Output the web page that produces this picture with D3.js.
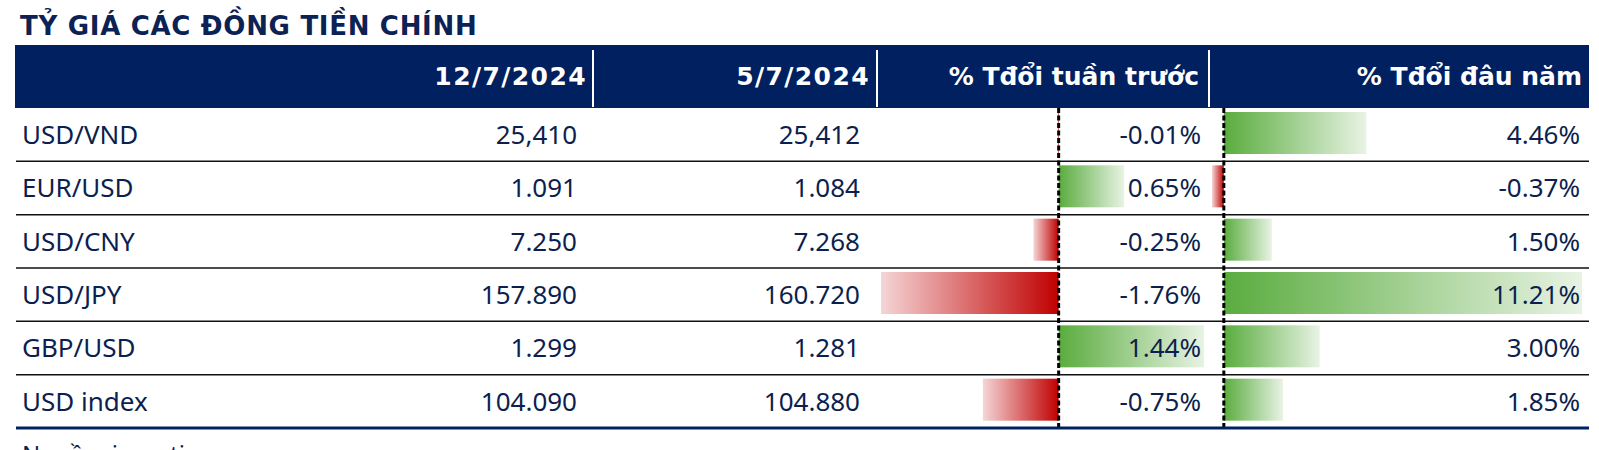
<!DOCTYPE html>
<html>
<head>
<meta charset="utf-8">
<script src="https://cdn.jsdelivr.net/npm/d3@7"></script>
<style>
  html, body { margin: 0; padding: 0; background: #ffffff; }
  svg { display: block; }
</style>
</head>
<body>
<script>
// ---------------- DATA ----------------
const title = "TỶ GIÁ CÁC ĐỒNG TIỀN CHÍNH";
const headers = ["12/7/2024", "5/7/2024", "% Tđổi tuần trước", "% Tđổi đâu năm"];
const pairs = ["USD/VND", "EUR/USD", "USD/CNY", "USD/JPY", "GBP/USD", "USD index"];
const current = [25410, 1.091, 7.250, 157.890, 1.299, 104.090];
const previous = [25412, 1.084, 7.268, 160.720, 1.281, 104.880];
const weekChange = [-0.01, 0.65, -0.25, -1.76, 1.44, -0.75];
const ytdChange = [4.46, -0.37, 1.50, 11.21, 3.00, 1.85];
const sourceNote = "Nguồn: investing";

// ---------------- LAYOUT ----------------
const W = 1599, H = 450;
const left = 16, right = 1589;
const headTop = 45, headBottom = 108, tableBottom = 428;
const navy = "#002060", ink = "#0c1f4e";
const dataFont = "'Noto Sans', 'DejaVu Sans', sans-serif";
const boldFont = "'DejaVu Sans', Verdana, sans-serif";

const locale = d3.formatLocale({ decimal: ".", thousands: ",", grouping: [3], currency: ["", ""], minus: "-" });

const svg = d3.select("body").append("svg").attr("width", W).attr("height", H);

// gradients
const defs = svg.append("defs");
const gp = defs.append("linearGradient").attr("id", "gPos").attr("x1", 0).attr("x2", 1).attr("y1", 0).attr("y2", 0);
gp.append("stop").attr("offset", 0).attr("stop-color", "#5aac3e");
gp.append("stop").attr("offset", 1).attr("stop-color", "#e8f3e4");
const gn = defs.append("linearGradient").attr("id", "gNeg").attr("x1", 1).attr("x2", 0).attr("y1", 0).attr("y2", 0);
gn.append("stop").attr("offset", 0).attr("stop-color", "#c00000");
gn.append("stop").attr("offset", 1).attr("stop-color", "#f5d5d6");

// title
svg.append("text")
  .attr("x", 20).attr("y", 35)
  .attr("font-family", boldFont).attr("font-weight", "bold")
  .attr("font-size", 26).attr("letter-spacing", 0.7)
  .attr("fill", "#0d2254")
  .text(title);

// header band
svg.append("rect").attr("x", left - 1).attr("y", headTop)
  .attr("width", right - left + 1).attr("height", headBottom - headTop)
  .attr("fill", navy);

const headRight = [587, 870, 1199, 1582];
const sepX = [593, 877, 1209];
svg.selectAll("line.sep").data(sepX).enter().append("line")
  .attr("x1", d => d).attr("x2", d => d)
  .attr("y1", 50).attr("y2", 107)
  .attr("stroke", "#ffffff").attr("stroke-width", 2);

svg.selectAll("text.head").data(headers).enter().append("text")
  .attr("class", "head")
  .attr("x", (d, i) => headRight[i]).attr("y", 85)
  .attr("text-anchor", "end")
  .attr("font-family", boldFont).attr("font-weight", "bold")
  .attr("font-size", 25)
  .attr("letter-spacing", (d, i) => i < 2 ? 1.4 : 0)
  .attr("fill", "#ffffff")
  .text(d => d);

// scales
const y = d3.scaleBand().domain(pairs).range([headBottom, tableBottom]).paddingInner(0).paddingOuter(0);
const xWeek = d3.scaleLinear().domain([d3.min(weekChange), d3.max(weekChange)]).range([881, 1204]);
const xYtd = d3.scaleLinear().domain([d3.min(ytdChange), d3.max(ytdChange)]).range([1212, 1582]);

const rows = pairs.map((p, i) => ({ p, cur: current[i], prev: previous[i], wk: weekChange[i], ytd: ytdChange[i] }));

// bars
function drawBars(key, xs) {
  svg.selectAll("rect.bar-" + key).data(rows).enter().append("rect")
    .attr("class", "bar-" + key)
    .attr("x", d => Math.min(xs(0), xs(d[key])))
    .attr("width", d => Math.abs(xs(d[key]) - xs(0)))
    .attr("y", d => y(d.p) + 4)
    .attr("height", 42)
    .attr("fill", d => d[key] >= 0 ? "url(#gPos)" : "url(#gNeg)");
}
drawBars("wk", xWeek);
drawBars("ytd", xYtd);

// row separator lines
svg.selectAll("line.rowline").data(pairs.slice(1)).enter().append("line")
  .attr("x1", left).attr("x2", right)
  .attr("y1", d => y(d)).attr("y2", d => y(d))
  .attr("stroke", "#111111").attr("stroke-width", 1.5);

// dashed zero axes
[xWeek(0), xYtd(0)].forEach(x0 => {
  svg.append("line")
    .attr("x1", x0).attr("x2", x0)
    .attr("y1", headBottom).attr("y2", tableBottom - 1)
    .attr("stroke", "#000000").attr("stroke-width", 3)
    .attr("stroke-dasharray", "5,2.5");
});

// bottom thick line
svg.append("line").attr("x1", left).attr("x2", right)
  .attr("y1", tableBottom).attr("y2", tableBottom)
  .attr("stroke", navy).attr("stroke-width", 3);

// text cells
const fmtNum = v => v >= 1000 ? locale.format(",.0f")(v) : locale.format(".3f")(v);
const fmtPct = v => locale.format(".2f")(v) + "%";
const cols = [
  { x: 22, anchor: "start", f: d => d.p },
  { x: 577, anchor: "end", f: d => fmtNum(d.cur) },
  { x: 860, anchor: "end", f: d => fmtNum(d.prev) },
  { x: 1201, anchor: "end", f: d => fmtPct(d.wk) },
  { x: 1580, anchor: "end", f: d => fmtPct(d.ytd) }
];
cols.forEach(c => {
  svg.append("g").selectAll("text").data(rows).enter().append("text")
    .attr("x", c.x).attr("y", d => y(d.p) + 36)
    .attr("text-anchor", c.anchor)
    .attr("font-family", dataFont).attr("font-size", 26)
    .attr("fill", ink)
    .text(c.f);
});

// source note (cut off at bottom like reference)
svg.append("text")
  .attr("x", 22).attr("y", 463)
  .attr("font-family", dataFont).attr("font-size", 24)
  .attr("fill", ink)
  .text(sourceNote);
</script>
</body>
</html>
